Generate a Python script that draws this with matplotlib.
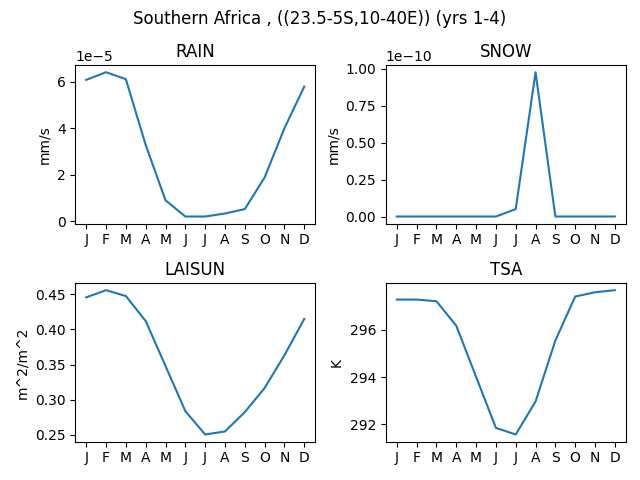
import matplotlib
matplotlib.use("Agg")
import matplotlib.pyplot as plt

months = ["J", "F", "M", "A", "M", "J", "J", "A", "S", "O", "N", "D"]

rain = [6.08e-5, 6.41e-5, 6.11e-5, 3.28e-5, 0.90e-5, 0.20e-5,
        0.20e-5, 0.33e-5, 0.52e-5, 1.88e-5, 4.00e-5, 5.79e-5]
snow = [0.0, 0.0, 0.0, 0.0, 0.0, 0.0,
        0.05e-10, 0.975e-10, 0.0, 0.0, 0.0, 0.0]
laisun = [0.4457, 0.456, 0.4476, 0.412, 0.348, 0.2837,
          0.2504, 0.2547, 0.2823, 0.3166, 0.3633, 0.415]
tsa = [297.29, 297.29, 297.22, 296.18, 294.01, 291.84,
       291.56, 292.96, 295.55, 297.42, 297.60, 297.69]

panels = [
    ("RAIN", rain, "mm/s"),
    ("SNOW", snow, "mm/s"),
    ("LAISUN", laisun, "m^2/m^2"),
    ("TSA", tsa, "K"),
]

fig, axes = plt.subplots(2, 2, figsize=(6.4, 4.8), dpi=100)
fig.suptitle("Southern Africa , ((23.5-5S,10-40E)) (yrs 1-4)")

for ax, (name, vals, units) in zip(axes.flat, panels):
    ax.plot(range(12), vals)
    ax.set_title(name)
    ax.set_ylabel(units)
    ax.set_xticks(range(12))
    ax.set_xticklabels(months)

# match the reference layout (tight_layout-like spacing)
fig.subplots_adjust(left=0.1177, right=0.9777, top=0.8646, bottom=0.0798,
                    wspace=0.295, hspace=0.373)
plt.savefig("out.png")
